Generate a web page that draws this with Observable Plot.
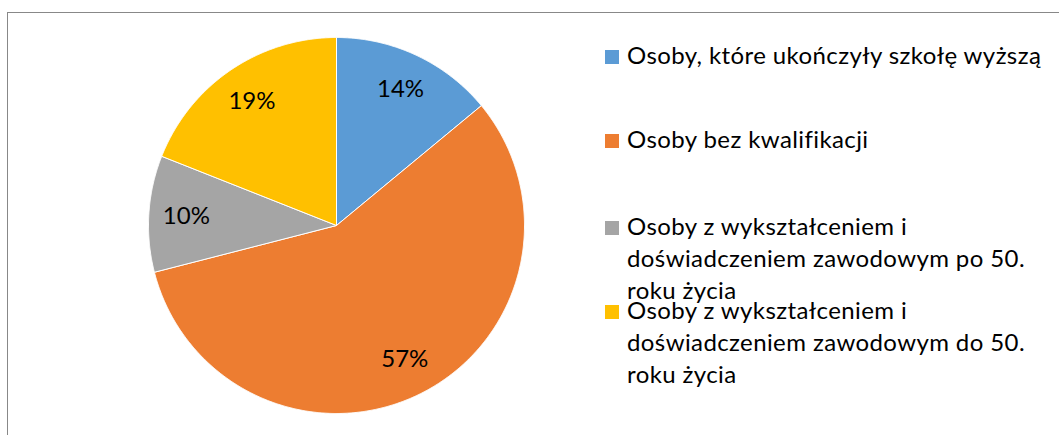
<!DOCTYPE html>
<html>
<head>
<meta charset="utf-8">
<script src="https://cdn.jsdelivr.net/npm/d3@7"></script>
<script src="https://cdn.jsdelivr.net/npm/@observablehq/plot@0.6"></script>
<style>
  html, body { margin: 0; padding: 0; background: #fff; }
  #wrap { position: relative; width: 1059px; height: 435px; overflow: hidden; font-family: Lato, sans-serif; }
  #frame { position: absolute; left: 7px; top: 12px; width: 2000px; height: 2000px; border-top: 1px solid #888; border-left: 1px solid #888; }
  #chart { position: absolute; left: 0; top: 0; }
  .item { position: absolute; left: 605px; font-size: 24px; letter-spacing: 0.4px; line-height: 32px; color: #000; white-space: pre; }
  .sw { position: absolute; left: 0; width: 14px; height: 14px; }
  .lab { position: absolute; left: 22px; top: 0; }
</style>
</head>
<body>
<div id="wrap"><div id="frame"></div><div id="chart"></div></div>
<script>
const categories = [
  "Osoby, które ukończyły szkołę wyższą",
  "Osoby bez kwalifikacji",
  "Osoby z wykształceniem i doświadczeniem zawodowym po 50. roku życia",
  "Osoby z wykształceniem i doświadczeniem zawodowym do 50. roku życia"
];
const legendLines = [
  ["Osoby, które ukończyły szkołę wyższą"],
  ["Osoby bez kwalifikacji"],
  ["Osoby z wykształceniem i", "doświadczeniem zawodowym po 50.", "roku życia"],
  ["Osoby z wykształceniem i", "doświadczeniem zawodowym do 50.", "roku życia"]
];
const values = [14, 57, 10, 19];
const colors = ["#5B9BD5", "#ED7D31", "#A5A5A5", "#FFC000"];

// layout
const cx = 336, cy = 225, R = 188;
const legendTops = [39, 123, 210, 294];

const arcs = d3.pie().sort(null).value(d => d)(values);
const slicePts = [];
arcs.forEach((a, i) => {
  const cat = categories[i];
  slicePts.push({cat, x: 0, y: 0});
  const n = Math.max(2, Math.ceil((a.endAngle - a.startAngle) / 0.005));
  for (let k = 0; k <= n; k++) {
    const t = a.startAngle + (a.endAngle - a.startAngle) * k / n;
    slicePts.push({cat, x: Math.sin(t), y: Math.cos(t)});
  }
  slicePts.push({cat, x: 0, y: 0});
});
const labels = arcs.map((a, i) => {
  const m = (a.startAngle + a.endAngle) / 2;
  return {x: 0.8 * Math.sin(m), y: 0.8 * Math.cos(m), text: values[i] + "%"};
});

const plot = Plot.plot({
  width: 1059,
  height: 435,
  margin: 0,
  style: {background: "transparent", fontFamily: "Lato, sans-serif"},
  x: {domain: [-1, 1], range: [cx - R, cx + R], axis: null},
  y: {domain: [-1, 1], range: [cy + R, cy - R], axis: null},
  color: {domain: categories, range: colors},
  marks: [
    Plot.line(slicePts, {x: "x", y: "y", z: "cat", fill: "cat", stroke: "#fff", strokeWidth: 1, curve: "linear"}),
    Plot.text(labels, {x: "x", y: "y", text: "text", fontSize: 24, fill: "#000", fontFamily: "Lato, sans-serif"})
  ]
});
document.getElementById("chart").appendChild(plot);

const wrap = document.getElementById("wrap");
legendLines.forEach((lines, i) => {
  const it = document.createElement("div");
  it.className = "item";
  it.style.top = legendTops[i] + "px";
  const sw = document.createElement("div");
  sw.className = "sw";
  sw.style.background = colors[i];
  sw.style.top = "11px";
  const lab = document.createElement("div");
  lab.className = "lab";
  lab.textContent = lines.join("\n");
  it.appendChild(sw);
  it.appendChild(lab);
  wrap.appendChild(it);
});
</script>
</body>
</html>
